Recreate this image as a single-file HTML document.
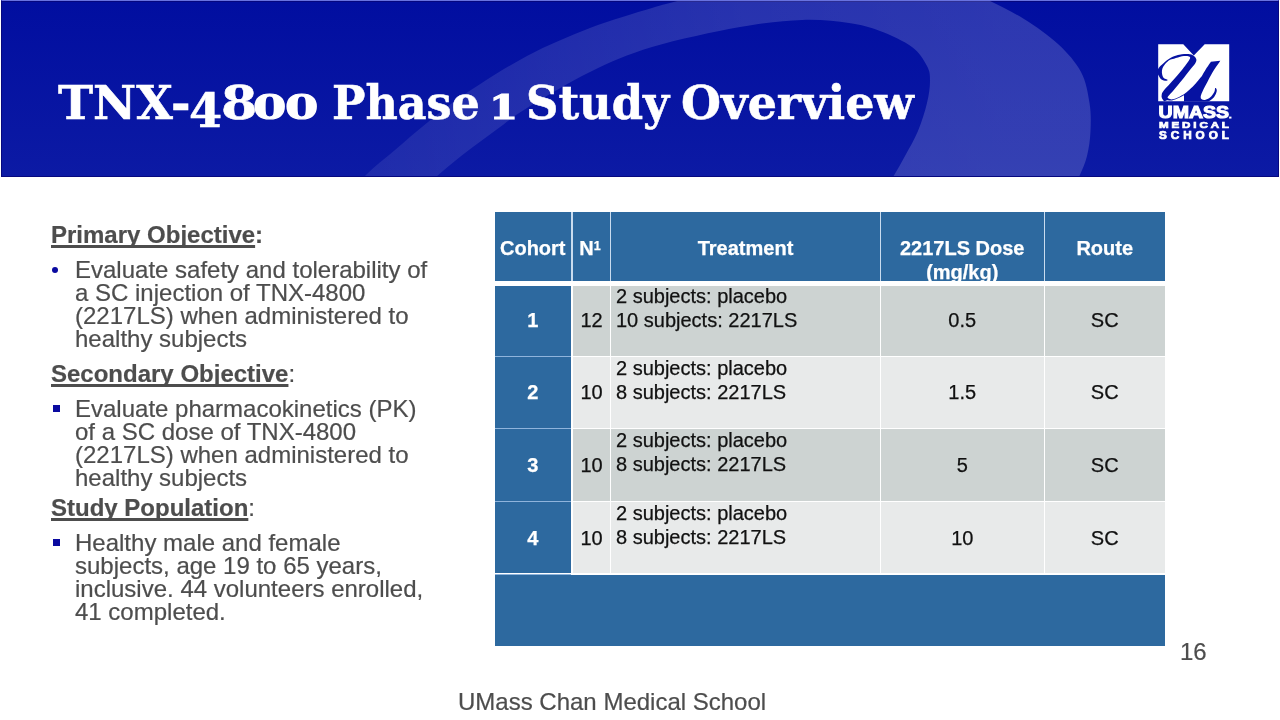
<!DOCTYPE html>
<html lang="en">
<head>
<meta charset="utf-8">
<title>TNX-4800 Phase 1 Study Overview</title>
<style>
html,body{margin:0;padding:0;}
body{width:1280px;height:720px;position:relative;overflow:hidden;background:#fff;font-family:"Liberation Sans",Arial,sans-serif;color:#4d4d4d;}
.abs{position:absolute;}
#band{position:absolute;left:1px;top:0;width:1278px;height:177px;background:linear-gradient(180deg,#010ea0 0%,#0c1aa4 100%);overflow:hidden;box-sizing:border-box;border:1px solid #06087e;border-top:1px solid #6872e0;box-shadow:inset 0 1px 0 #05077f;}
#band svg{position:absolute;left:-2px;top:-1px;}
#title{position:absolute;left:58px;top:73px;height:60px;margin:0;font-family:"DejaVu Serif Condensed","DejaVu Serif","Liberation Serif",serif;font-weight:bold;font-size:0;line-height:60px;color:#fff;white-space:nowrap;}
#title .w{-webkit-text-stroke:0.5px #fff;display:inline-block;position:relative;font-size:46.8px;line-height:60px;vertical-align:baseline;transform-origin:0 50%;text-align:left;}
#title .os{-webkit-text-stroke:1.1px #fff;font-family:"DejaVu Serif","Liberation Serif",serif;font-size:34px;}
.txt{-webkit-text-stroke:0.2px currentColor;position:absolute;font-size:24px;line-height:23px;white-space:nowrap;margin:0;padding:0;}
.h{font-weight:bold;}
.h u{text-decoration:underline;text-decoration-thickness:3px;text-underline-offset:2px;text-decoration-skip-ink:none;}
.h .n{font-weight:normal;}
ul{list-style:none;margin:0;padding:0;}
.bul{position:absolute;background:#0a0aa0;}

#tbl{position:absolute;left:0;top:0;}
.c{position:absolute;box-sizing:border-box;}
.hd{background:#2d699f;}
.g1{background:#cdd3d2;}
.g2{background:#e8eaea;}
.tt{-webkit-text-stroke:0.25px currentColor;position:absolute;font-size:20px;line-height:24px;white-space:nowrap;margin:0;color:#111;}
.tt.w{color:#fff;font-weight:bold;}
.ctr{text-align:center;}
</style>
</head>
<body>
<div id="band">
<svg width="1280" height="178" viewBox="0 0 1280 178">
<defs><linearGradient id="sg" gradientUnits="userSpaceOnUse" x1="360" y1="0" x2="1000" y2="0"><stop offset="0" stop-color="#fff" stop-opacity="0.08"/><stop offset="0.6" stop-color="#fff" stop-opacity="0.15"/><stop offset="1" stop-color="#fff" stop-opacity="0.17"/></linearGradient></defs>
<path fill="url(#sg)" d="M340.0,210.0 C344.0,204.5 354.8,187.0 364.0,177.0 C373.2,167.0 384.4,159.1 395.0,150.0 C405.6,140.9 415.8,131.8 427.5,122.5 C439.2,113.2 448.4,105.1 465.0,94.0 C481.6,82.9 506.2,67.0 527.0,56.0 C547.8,45.0 569.2,36.0 590.0,28.0 C610.8,20.0 635.3,13.0 652.0,8.0 C668.7,3.0 677.0,1.0 690.0,-2.0 C703.0,-5.0 723.3,-8.7 730.0,-10.0 L960.0,-12.0 C964.7,-10.0 977.3,-5.2 988.0,0.0 C998.7,5.2 1012.3,11.7 1024.0,19.0 C1035.7,26.3 1048.5,35.2 1058.0,44.0 C1067.5,52.8 1075.8,62.2 1081.0,72.0 C1086.2,81.8 1087.9,93.2 1089.5,103.0 C1091.1,112.8 1090.9,122.2 1090.5,131.0 C1090.1,139.8 1088.9,148.3 1087.0,156.0 C1085.1,163.7 1082.2,169.7 1079.0,177.0 C1075.8,184.3 1069.8,196.2 1068.0,200.0 L878.0,200.0 C880.5,196.2 888.5,184.3 893.0,177.0 C897.5,169.7 900.8,163.7 905.0,156.0 C909.2,148.3 914.3,139.8 918.0,131.0 C921.7,122.2 925.0,111.3 927.0,103.0 C929.0,94.7 930.0,87.2 930.0,81.0 C930.0,74.8 930.0,71.7 927.0,66.0 C924.0,60.3 919.8,52.8 912.0,47.0 C904.2,41.2 890.5,35.0 880.0,31.0 C869.5,27.0 862.0,24.8 849.0,23.0 C836.0,21.2 820.2,19.3 802.0,20.0 C783.8,20.7 765.0,22.5 740.0,27.0 C715.0,31.5 677.0,39.5 652.0,47.0 C627.0,54.5 610.8,61.8 590.0,72.0 C569.2,82.2 542.7,98.3 527.0,108.0 C511.3,117.7 506.3,122.5 496.0,130.0 C485.7,137.5 475.0,145.2 465.0,153.0 C455.0,160.8 446.8,167.5 436.0,177.0 C425.2,186.5 406.0,204.5 400.0,210.0 Z"/>
</svg>
</div>
<h1 id="title"><span class="w" style="width:130.5px;transform:scaleX(1.12);">TNX-</span><span class="w" style="width:32px;top:8px;transform:scaleX(1.13);">4</span><span class="w" style="width:32.5px;transform:scaleX(1.24);">8</span><span class="w os" style="width:31.5px;transform:scaleX(1.41);">0</span><span class="w os" style="width:47.5px;transform:scaleX(1.41);">0</span> <span class="w" style="width:157px;transform:scaleX(1.056);">Phase</span> <span class="w os" style="width:37px;transform:scaleX(1.23);">1</span> <span class="w" style="width:155px;transform:scaleX(1.065);">Study</span> <span class="w" style="transform:scaleX(1.09);">Overview</span></h1>

<!-- LOGO -->
<svg id="logo" class="abs" style="left:1150px;top:36px;" width="90" height="110" viewBox="1150 36 90 110">
<polygon fill="#fff" points="1158.2,44.2 1183.3,44.2 1193.8,55.4 1204.7,44.2 1229.2,44.2 1229.2,101.2 1158.2,101.2"/>
<path fill="#0612a2" d="M1167.5,80.4 C1167.1,80.5 1165.8,80.9 1165.0,80.8 C1164.2,80.7 1163.3,80.5 1162.5,80.0 C1161.7,79.5 1160.8,79.1 1160.0,77.9 C1159.2,76.7 1157.8,74.6 1157.5,73.0 C1157.2,71.4 1157.6,69.8 1158.5,68.3 C1159.4,66.8 1161.2,65.4 1162.7,64.0 C1164.2,62.6 1165.4,61.3 1167.3,60.0 C1169.2,58.7 1171.5,57.2 1174.0,56.3 C1176.5,55.3 1179.3,54.6 1182.0,54.3 C1184.7,54.0 1188.0,54.0 1190.0,54.3 C1192.0,54.6 1193.0,55.2 1194.0,56.0 C1195.0,56.8 1196.1,58.1 1196.3,59.3 C1196.5,60.5 1196.4,61.5 1195.3,63.3 C1194.2,65.1 1192.1,67.2 1189.9,70.0 C1187.7,72.8 1184.8,76.7 1182.1,80.0 C1179.4,83.3 1176.1,87.3 1173.8,90.0 C1171.5,92.7 1169.4,94.7 1168.4,96.0 C1167.4,97.3 1167.5,97.6 1167.8,98.1 C1168.0,98.6 1169.0,98.9 1169.8,99.1 C1170.6,99.3 1171.5,99.5 1172.8,99.3 C1174.0,99.1 1176.0,98.2 1177.3,97.7 C1178.6,97.2 1179.6,96.6 1180.7,96.0 C1181.8,95.4 1182.5,95.3 1184.0,94.3 C1185.5,93.3 1187.5,91.5 1189.4,89.8 C1191.4,88.0 1194.0,85.4 1195.7,83.5 C1197.4,81.6 1198.8,79.8 1199.8,78.5 C1200.8,77.2 1201.0,77.4 1201.9,76.0 C1202.8,74.6 1203.9,72.4 1205.4,70.0 C1206.9,67.6 1210.0,63.2 1210.9,61.8 L1220.3,60.7 C1219.0,62.7 1214.6,68.8 1212.3,72.7 C1210.0,76.6 1208.1,80.6 1206.3,84.0 C1204.5,87.4 1202.6,91.1 1201.7,93.3 C1200.8,95.5 1200.7,96.3 1200.7,97.3 C1200.7,98.3 1201.0,98.8 1201.7,99.3 C1202.4,99.8 1203.6,100.3 1205.0,100.0 C1206.4,99.7 1208.8,98.6 1210.3,97.3 C1211.8,96.0 1213.5,93.5 1214.3,92.0 C1215.1,90.5 1214.9,88.7 1215.0,88.0 C1215.2,88.1 1215.9,88.0 1216.2,88.5 C1216.5,89.0 1217.0,89.9 1216.7,91.3 C1216.4,92.7 1215.5,95.1 1214.3,96.7 C1213.1,98.3 1211.1,99.9 1209.7,100.7 C1208.3,101.5 1206.6,101.4 1206.0,101.6 L1184,101.6 L1184.0,95.2 C1183.5,95.5 1181.8,96.3 1180.7,96.9 C1179.6,97.5 1178.6,98.0 1177.3,98.6 C1176.0,99.1 1174.1,99.9 1172.8,100.2 C1171.4,100.5 1170.0,100.4 1169.0,100.4 C1168.0,100.4 1167.3,100.2 1166.5,100.4 C1165.7,100.6 1164.4,101.2 1164.0,101.3 C1163.7,100.8 1162.3,99.2 1161.9,98.1 C1161.5,97.0 1161.4,96.0 1161.7,94.8 C1162.0,93.5 1161.9,93.1 1163.8,90.6 C1165.7,88.1 1170.3,83.4 1173.3,80.0 C1176.3,76.6 1179.2,73.3 1181.9,70.0 C1184.6,66.7 1187.9,62.1 1189.2,60.0 C1190.5,57.9 1190.3,58.0 1190.0,57.3 C1189.7,56.6 1188.6,56.2 1187.3,56.0 C1186.0,55.8 1184.2,55.8 1182.0,56.3 C1179.8,56.8 1176.1,58.1 1174.0,58.7 C1171.9,59.3 1171.1,59.1 1169.6,60.0 C1168.1,60.9 1166.2,62.8 1165.0,64.2 C1163.8,65.6 1163.0,66.9 1162.5,68.3 C1162.0,69.7 1161.8,71.1 1161.9,72.5 C1162.0,73.9 1162.4,75.7 1162.9,76.7 C1163.4,77.7 1164.2,78.2 1165.0,78.8 C1165.8,79.3 1167.1,79.6 1167.5,79.8 Z"/>
<g fill="#fff" stroke="#fff" font-family="Liberation Sans, Arial, sans-serif" font-weight="bold">
<text x="1158.6" y="117.5" font-size="15.9" stroke-width="1" textLength="72.6" lengthAdjust="spacingAndGlyphs">UMASS<tspan font-size="6">.</tspan></text>
<text transform="translate(1159,128) scale(1.3,1)" font-size="8.9" stroke-width="0.7" textLength="53.8" lengthAdjust="spacing">MEDICAL</text>
<text transform="translate(1159,138.7) scale(1.15,1)" font-size="10.2" stroke-width="0.7" textLength="60.8" lengthAdjust="spacing">SCHOOL</text>
</g>
</svg>

<!-- LEFT TEXT -->
<p class="txt h" style="left:51px;top:223px;"><u>Primary Objective</u>:</p>
<span class="bul" style="left:52px;top:267px;width:6px;height:6px;border-radius:50%;"></span>
<p class="txt" style="left:75px;top:258px;">Evaluate safety and tolerability of<br>a SC injection of TNX-4800<br>(2217LS) when administered to<br>healthy subjects</p>
<p class="txt h" style="left:51px;top:362px;"><u>Secondary Objective</u><span class="n">:</span></p>
<span class="bul" style="left:53px;top:405px;width:7px;height:7px;"></span>
<p class="txt" style="left:75px;top:397px;">Evaluate pharmacokinetics (PK)<br>of a SC dose of TNX-4800<br>(2217LS) when administered to<br>healthy subjects</p>
<p class="txt h" style="left:51px;top:496px;"><u>Study Population</u><span class="n">:</span></p>
<span class="bul" style="left:53px;top:539px;width:7px;height:7px;"></span>
<p class="txt" style="left:75px;top:531px;">Healthy male and female<br>subjects, age 19 to 65 years,<br>inclusive. 44 volunteers enrolled,<br>41 completed.</p>

<!-- TABLE -->
<div id="tbl">
<div class="c hd" style="left:494.5px;top:212px;width:76.5px;height:69.2px;"></div>
<div class="c hd" style="left:573px;top:212px;width:37px;height:69.2px;"></div>
<div class="c hd" style="left:611px;top:212px;width:269px;height:69.2px;"></div>
<div class="c hd" style="left:881px;top:212px;width:162.5px;height:69.2px;"></div>
<div class="c hd" style="left:1044.5px;top:212px;width:120.5px;height:69.2px;"></div>
<div class="c" style="left:571px;top:212px;width:2px;height:69.2px;background:#c9dcef;"></div>
<div class="c" style="left:610px;top:212px;width:1px;height:69.2px;background:#c9dcef;"></div>
<div class="c" style="left:880px;top:212px;width:1px;height:69.2px;background:#c9dcef;"></div>
<div class="c" style="left:1043.5px;top:212px;width:1px;height:69.2px;background:#c9dcef;"></div>
<div class="c" style="left:494.5px;top:212px;width:76.5px;height:69.2px;overflow:hidden;"><p class="tt w ctr" style="left:0;right:0;top:24px;">Cohort</p></div>
<div class="c" style="left:573px;top:212px;width:37px;height:69.2px;overflow:hidden;"><p class="tt w ctr" style="left:-3px;right:0;top:24px;">N<sup style="font-size:12.5px;line-height:0;vertical-align:baseline;position:relative;top:-5px;">1</sup></p></div>
<div class="c" style="left:611px;top:212px;width:269px;height:69.2px;overflow:hidden;"><p class="tt w ctr" style="left:0;right:0;top:24px;">Treatment</p></div>
<div class="c" style="left:881px;top:212px;width:162.5px;height:69.2px;overflow:hidden;"><p class="tt w ctr" style="left:0;right:0;top:24px;">2217LS Dose<br>(mg/kg)</p></div>
<div class="c" style="left:1044.5px;top:212px;width:120.5px;height:69.2px;overflow:hidden;"><p class="tt w ctr" style="left:0;right:0;top:24px;">Route</p></div>
<div class="c hd" style="left:494.5px;top:285.5px;width:76.5px;height:70.5px;"><p class="tt ctr w" style="left:0;right:0;top:22.25px;">1</p></div>
<div class="c g1" style="left:573px;top:285.5px;width:37px;height:70.5px;"><p class="tt ctr" style="left:0;right:0;top:22.25px;">12</p></div>
<div class="c g1" style="left:611px;top:285.5px;width:269px;height:70.5px;"><p class="tt" style="left:5px;top:-2px;">2 subjects: placebo<br>10 subjects: 2217LS</p></div>
<div class="c g1" style="left:881px;top:285.5px;width:162.5px;height:70.5px;"><p class="tt ctr" style="left:0;right:0;top:22.25px;">0.5</p></div>
<div class="c g1" style="left:1044.5px;top:285.5px;width:120.5px;height:70.5px;"><p class="tt ctr" style="left:0;right:0;top:22.25px;">SC</p></div>
<div class="c" style="left:494.5px;top:356px;width:76.5px;height:1px;background:#8fb4dc;"></div>
<div class="c hd" style="left:494.5px;top:357px;width:76.5px;height:71px;"><p class="tt ctr w" style="left:0;right:0;top:22.5px;">2</p></div>
<div class="c g2" style="left:573px;top:357px;width:37px;height:71px;"><p class="tt ctr" style="left:0;right:0;top:22.5px;">10</p></div>
<div class="c g2" style="left:611px;top:357px;width:269px;height:71px;"><p class="tt" style="left:5px;top:-1.4px;">2 subjects: placebo<br>8 subjects: 2217LS</p></div>
<div class="c g2" style="left:881px;top:357px;width:162.5px;height:71px;"><p class="tt ctr" style="left:0;right:0;top:22.5px;">1.5</p></div>
<div class="c g2" style="left:1044.5px;top:357px;width:120.5px;height:71px;"><p class="tt ctr" style="left:0;right:0;top:22.5px;">SC</p></div>
<div class="c" style="left:494.5px;top:428px;width:76.5px;height:1.3px;background:#8fb4dc;"></div>
<div class="c hd" style="left:494.5px;top:429px;width:76.5px;height:71.7px;"><p class="tt ctr w" style="left:0;right:0;top:23.6px;">3</p></div>
<div class="c g1" style="left:573px;top:429px;width:37px;height:71.7px;"><p class="tt ctr" style="left:0;right:0;top:23.6px;">10</p></div>
<div class="c g1" style="left:611px;top:429px;width:269px;height:71.7px;"><p class="tt" style="left:5px;top:-0.6px;">2 subjects: placebo<br>8 subjects: 2217LS</p></div>
<div class="c g1" style="left:881px;top:429px;width:162.5px;height:71.7px;"><p class="tt ctr" style="left:0;right:0;top:23.6px;">5</p></div>
<div class="c g1" style="left:1044.5px;top:429px;width:120.5px;height:71.7px;"><p class="tt ctr" style="left:0;right:0;top:23.6px;">SC</p></div>
<div class="c" style="left:494.5px;top:500.7px;width:76.5px;height:1.1px;background:#8fb4dc;"></div>
<div class="c hd" style="left:494.5px;top:501.8px;width:76.5px;height:71.7px;"><p class="tt ctr w" style="left:0;right:0;top:24.2px;">4</p></div>
<div class="c g2" style="left:573px;top:501.8px;width:37px;height:71.7px;"><p class="tt ctr" style="left:0;right:0;top:24.2px;">10</p></div>
<div class="c g2" style="left:611px;top:501.8px;width:269px;height:71.7px;"><p class="tt" style="left:5px;top:-1.2px;">2 subjects: placebo<br>8 subjects: 2217LS</p></div>
<div class="c g2" style="left:881px;top:501.8px;width:162.5px;height:71.7px;"><p class="tt ctr" style="left:0;right:0;top:24.2px;">10</p></div>
<div class="c g2" style="left:1044.5px;top:501.8px;width:120.5px;height:71.7px;"><p class="tt ctr" style="left:0;right:0;top:24.2px;">SC</p></div>
<div class="c" style="left:494.5px;top:573.5px;width:76.5px;height:1px;background:#8fb4dc;"></div>
<div class="c hd" style="left:494.5px;top:574.5px;width:670.5px;height:71px;"></div>
</div>

<p class="txt" style="left:1180px;top:640px;">16</p>
<p class="txt" style="left:458px;top:690px;">UMass Chan Medical School</p>
</body>
</html>
